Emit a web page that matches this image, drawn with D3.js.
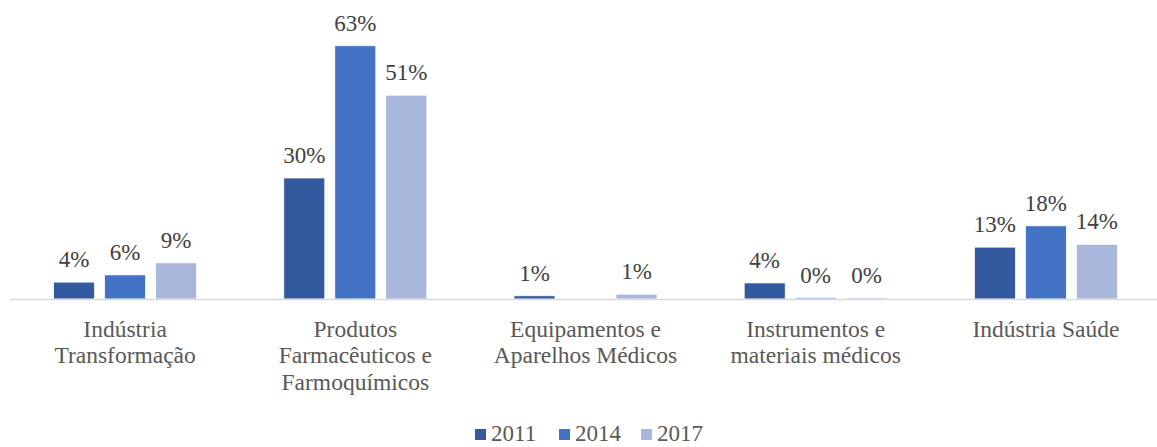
<!DOCTYPE html>
<html>
<head>
<meta charset="utf-8">
<script src="https://cdn.jsdelivr.net/npm/d3@7.9.0/dist/d3.min.js"></script>
<style>
  body { margin: 0; background: #fff; }
  svg { display: block; font-family: "Liberation Serif", "Times New Roman", serif; }
</style>
</head>
<body>
<svg width="1157" height="447"></svg>
<script>
// categories (line breaks as in the picture)
const categories = [
  ['Indústria', 'Transformação'],
  ['Produtos', 'Farmacêuticos e', 'Farmoquímicos'],
  ['Equipamentos e', 'Aparelhos Médicos'],
  ['Instrumentos e', 'materiais médicos'],
  ['Indústria Saúde']
];
const years = ['2011', '2014', '2017'];
// share in %, one array per year (null = no bar / no label)
const v2011 = [4.2, 30.1, 0.8, 4.0, 12.9];
const v2014 = [6.0, 63.0, null, 0.3, 18.2];
const v2017 = [9.0, 50.7, 1.2, 0.3, 13.6];
const colors = ['#335A9F', '#4472C4', '#A9B7DC'];

const series = [v2011, v2014, v2017];
const catKeys = categories.map((c) => c.join(' '));

const svg = d3.select('svg');

const x0 = d3.scaleBand().domain(catKeys).range([10, 1161]);
const x1 = d3.scaleBand().domain(years)
  .range([(x0.bandwidth() - 143) / 2, (x0.bandwidth() + 143) / 2])
  .paddingInner(10 / 51);
const y = d3.scaleLinear().domain([0, 70]).range([299, 299 - 70 * 4.02]);

// bars
series.forEach((vals, si) => {
  vals.forEach((v, ci) => {
    if (v === null) return;
    const bx = x0(catKeys[ci]) + x1(years[si]);
    svg.append('rect')
      .attr('x', bx)
      .attr('y', y(v))
      .attr('width', x1.bandwidth())
      .attr('height', y(0) - y(v))
      .attr('fill', colors[si])
      .attr('stroke', '#fff')
      .attr('stroke-width', 0.75);

    svg.append('text')
      .attr('x', bx + x1.bandwidth() / 2)
      .attr('y', y(v) - 15)
      .attr('text-anchor', 'middle')
      .attr('font-size', 23)
      .attr('fill', '#404040')
      .text(Math.round(v) + '%');
  });
});

// category axis line
svg.append('line')
  .attr('x1', x0.range()[0]).attr('x2', x0.range()[1])
  .attr('y1', y(0) + 0.5).attr('y2', y(0) + 0.5)
  .attr('stroke', '#D9D9D9')
  .attr('stroke-width', 1.5);

// category labels
categories.forEach((lines, ci) => {
  const t = svg.append('text')
    .attr('x', x0(catKeys[ci]) + x0.bandwidth() / 2)
    .attr('y', 337)
    .attr('text-anchor', 'middle')
    .attr('font-size', 23.5)
    .attr('fill', '#595959');
  lines.forEach((ln, i) => {
    t.append('tspan')
      .attr('x', x0(catKeys[ci]) + x0.bandwidth() / 2)
      .attr('dy', i === 0 ? 0 : 26.3)
      .text(ln);
  });
});

// legend
const legendX = [475, 559, 641];
years.forEach((yr, i) => {
  svg.append('rect')
    .attr('x', legendX[i]).attr('y', 429)
    .attr('width', 11).attr('height', 11)
    .attr('fill', colors[i]);
  svg.append('text')
    .attr('x', legendX[i] + 16).attr('y', 441)
    .attr('font-size', 23)
    .attr('fill', '#595959')
    .text(yr);
});
</script>
</body>
</html>
